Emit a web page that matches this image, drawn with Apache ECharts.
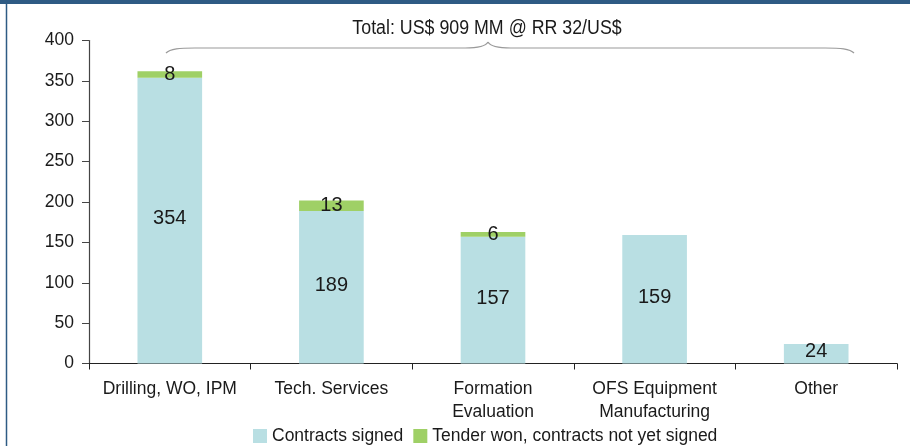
<!DOCTYPE html>
<html>
<head>
<meta charset="utf-8">
<script src="https://cdn.jsdelivr.net/npm/echarts@6/dist/echarts.min.js"></script>
<style>
  html, body { margin: 0; padding: 0; background: #fff; }
  #main { width: 910px; height: 446px; }
</style>
</head>
<body>
<div id="main"></div>
<script>
var categories = ['Drilling, WO, IPM', 'Tech. Services', 'Formation\nEvaluation', 'OFS Equipment\nManufacturing', 'Other'];
var signed = [354, 189, 157, 159, 24];
var tenderWon = [8, 13, 6, null, null];
var seriesNames = ['Contracts signed', 'Tender won, contracts not yet signed'];
var totalText = 'Total: US$ 909 MM @ RR 32/US$';

var chartDom = document.getElementById('main');
var myChart = echarts.init(chartDom, null, { renderer: 'canvas' });

var txt = '#1a1a1a';
var braceColor = '#9a9a9a';

var option = {
  backgroundColor: '#fff',
  animation: false,
  textStyle: { fontFamily: 'Liberation Sans, Arial, sans-serif' },
  grid: { left: 89, right: 13, top: 40.5, bottom: 82.5, containLabel: false },
  legend: {
    bottom: -4,
    left: 248,
    itemWidth: 14,
    itemHeight: 14,
    itemGap: 10,
    icon: 'rect',
    textStyle: { fontSize: 17.5, color: txt, padding: [0, 0, 0, 0] },
    data: seriesNames
  },
  xAxis: {
    type: 'category',
    data: categories,
    axisLine: { lineStyle: { color: '#222', width: 1.2 } },
    axisTick: { show: true, length: 6, lineStyle: { color: '#222' } },
    axisLabel: { fontSize: 17.5, color: txt, margin: 14, lineHeight: 23, interval: 0 }
  },
  yAxis: {
    type: 'value',
    min: 0,
    max: 400,
    interval: 50,
    splitLine: { show: false },
    axisLine: { show: true, lineStyle: { color: '#444', width: 1.2 } },
    axisTick: { show: true, length: 7, lineStyle: { color: '#444' } },
    axisLabel: { fontSize: 17.5, color: txt, margin: 15 }
  },
  series: [
    {
      name: seriesNames[0],
      type: 'bar',
      stack: 'total',
      barWidth: '40%',
      data: signed,
      itemStyle: { color: '#b9dfe3' },
      label: { show: true, position: 'inside', color: txt, fontSize: 20, offset: [0, -2] }
    },
    {
      name: seriesNames[1],
      type: 'bar',
      stack: 'total',
      barWidth: '40%',
      data: tenderWon,
      itemStyle: { color: '#9fd066' },
      label: { show: true, position: 'inside', color: txt, fontSize: 20 }
    }
  ],
  graphic: [
    {
      type: 'rect',
      shape: { x: 6.5, y: -10, width: 1000, height: 500 },
      style: { fill: 'none', stroke: '#2e5b84', lineWidth: 1.5 },
      silent: true
    },
    {
      type: 'rect',
      shape: { x: 0, y: 0, width: 910, height: 4 },
      style: { fill: '#2e5b84' },
      silent: true
    },
    {
      type: 'text',
      x: 487,
      y: 28,
      scaleX: 0.89,
      style: {
        text: totalText,
        fontSize: 20,
        fill: txt,
        align: 'center',
        verticalAlign: 'middle'
      }
    },
    // curly brace over the bars
    {
      type: 'bezierCurve',
      shape: { x1: 166, y1: 53, cpx1: 170, cpy1: 48.5, cpx2: 180, cpy2: 48, x2: 195, y2: 48 },
      style: { fill: 'none', stroke: braceColor, lineWidth: 1.2 },
      silent: true
    },
    {
      type: 'line',
      shape: { x1: 195, y1: 48, x2: 465, y2: 48 },
      style: { stroke: braceColor, lineWidth: 1.2 },
      silent: true
    },
    {
      type: 'bezierCurve',
      shape: { x1: 465, y1: 48, cpx1: 480, cpy1: 48, cpx2: 486, cpy2: 46, x2: 488, y2: 42 },
      style: { fill: 'none', stroke: braceColor, lineWidth: 1.2 },
      silent: true
    },
    {
      type: 'bezierCurve',
      shape: { x1: 488, y1: 42, cpx1: 490, cpy1: 46, cpx2: 496, cpy2: 48, x2: 511, y2: 48 },
      style: { fill: 'none', stroke: braceColor, lineWidth: 1.2 },
      silent: true
    },
    {
      type: 'line',
      shape: { x1: 511, y1: 48, x2: 825, y2: 48 },
      style: { stroke: braceColor, lineWidth: 1.2 },
      silent: true
    },
    {
      type: 'bezierCurve',
      shape: { x1: 825, y1: 48, cpx1: 840, cpy1: 48, cpx2: 850, cpy2: 48.5, x2: 854, y2: 53 },
      style: { fill: 'none', stroke: braceColor, lineWidth: 1.2 },
      silent: true
    }
  ]
};

myChart.setOption(option);
</script>
</body>
</html>
